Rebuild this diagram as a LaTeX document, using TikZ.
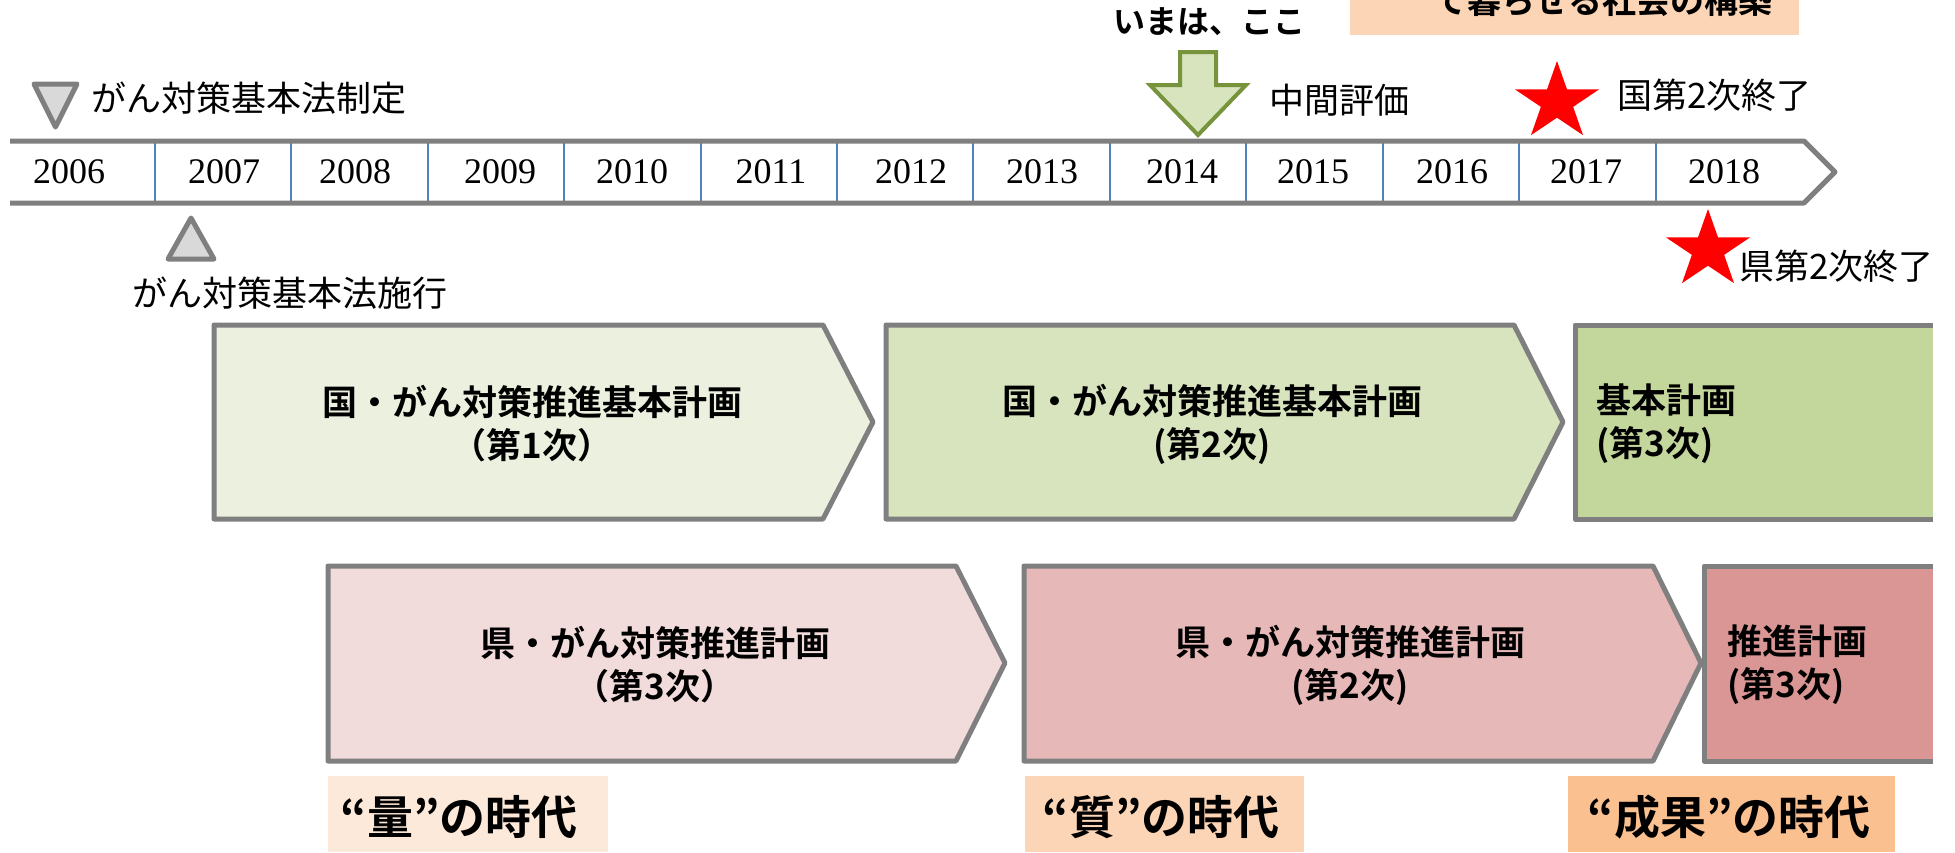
\documentclass[tikz,border=0pt]{standalone}
\usepackage{fontspec}
\setmainfont{Liberation Serif}
\newfontfamily\jp{Noto Sans CJK JP}
\newfontfamily\jpb{Noto Sans CJK JP Bold}
\definecolor{lgray}{HTML}{7F7F7F}
\definecolor{tblue}{HTML}{4F81BD}
\definecolor{agreen}{HTML}{77933C}
\definecolor{afill}{HTML}{D7E4BD}
\definecolor{gA}{HTML}{EBF1DE}
\definecolor{gB}{HTML}{D7E4BD}
\definecolor{gC}{HTML}{C3D69B}
\definecolor{rA}{HTML}{F2DCDB}
\definecolor{rB}{HTML}{E6B9B8}
\definecolor{rC}{HTML}{D99694}
\definecolor{pA}{HTML}{FDE9D9}
\definecolor{pB}{HTML}{FBD5B5}
\definecolor{pC}{HTML}{FAC090}
\definecolor{trig}{HTML}{D9D9D9}
\tikzset{
  outl/.style={draw=lgray, line width=5, line join=round},
  yr/.style={font=\fontsize{36}{40}\selectfont, inner sep=0},
  note/.style={font=\jp\fontsize{35}{40}\selectfont, inner sep=0},
  btitle/.style={font=\jpb\fontsize{35}{43}\selectfont, inner sep=0, align=center},
  btitlel/.style={font=\jpb\fontsize{35}{43}\selectfont, inner sep=0, align=left, anchor=west},
  era/.style={font=\jpb\fontsize{46}{50}\selectfont, inner sep=0},
  trimark/.style={draw=lgray, fill=trig, line width=5, line join=round},
  redstar/.style={fill=red},
}
\begin{document}
\begin{tikzpicture}[x=1pt, y=-1pt]
\useasboundingbox (0,0) rectangle (1955,852);
\clip (0,0) rectangle (1955,852);

% top partially visible box
\fill[pB] (1350,-20) rectangle (1799,35);
\node[font=\jpb\fontsize{34}{40}\selectfont, inner sep=0, anchor=base] (goal) at (1603,13) {て暮らせる社会の構築};

% "now" marker
\node[font=\jpb\fontsize{32}{40}\selectfont, inner sep=0] (now) at (1209,22) {いまは、ここ};
\draw[draw=agreen, fill=afill, line width=4, line join=miter]
  (1180,52) -- (1216,52) -- (1216,85) -- (1246,85) -- (1198,135) -- (1150,85) -- (1180,85) -- cycle;
\node[note, anchor=west] (mid) at (1269,100) {中間評価};

% stars
\fill[redstar, shift={(1557,102)}, xscale=1.08]
  (-90:41) -- (-54:15.7) -- (-18:41) -- (18:15.7) -- (54:41) -- (90:15.7) -- (126:41) -- (162:15.7) -- (198:41) -- (234:15.7) -- cycle;
\node[note, anchor=west] (kuni) at (1617,95) {国第2次終了};
\fill[redstar, shift={(1708,250)}, xscale=1.08]
  (-90:41) -- (-54:15.7) -- (-18:41) -- (18:15.7) -- (54:41) -- (90:15.7) -- (126:41) -- (162:15.7) -- (198:41) -- (234:15.7) -- cycle;
\node[note, anchor=west] (ken) at (1739,266) {県第2次終了};

% law markers
\draw[trimark] (34,84) -- (77,84) -- (55.5,127) -- cycle;
\node[note, anchor=west] (seitei) at (91,98) {がん対策基本法制定};
\draw[trimark] (168,259) -- (214,259) -- (191,218) -- cycle;
\node[note] (shiko) at (290,293) {がん対策基本法施行};

% timeline
\fill[white] (10,141) -- (1804,141) -- (1835,172) -- (1804,203) -- (10,203) -- cycle;
\foreach \x in {155,290.5,428,564,701,837,972.5,1110,1246,1383,1519,1656}
  \draw[tblue, line width=2] (\x,143) -- (\x,201);
\draw[outl] (10,141) -- (1804,141) -- (1835,172) -- (1804,203) -- (10,203);
\foreach \yv/\x in {2006/69,2007/224,2008/355,2009/500,2010/632,2011/771,2012/911,2013/1042,2014/1182,2015/1313,2016/1452,2017/1586,2018/1724}
  \node[yr] (y\yv) at (\x,172) {\yv};

% national plans
\draw[outl, fill=gA] (214,325) -- (823,325) -- (873,422) -- (823,519) -- (214,519) -- cycle;
\node[btitle] (n1) at (532,424) {国・がん対策推進基本計画\\（第1次）};
\draw[outl, fill=gB] (886,325) -- (1514,325) -- (1563,422) -- (1514,519) -- (886,519) -- cycle;
\node[btitle] (n2) at (1212,424) {国・がん対策推進基本計画\\(第2次)};
\fill[gC] (1575,325) rectangle (1933,519);
\draw[outl] (1933,325) -- (1575,325) -- (1575,519) -- (1933,519);
\node[btitlel] (n3) at (1596,424) {基本計画\\(第3次)};

% prefectural plans
\draw[outl, fill=rA] (328,566) -- (956,566) -- (1005,663) -- (956,761) -- (328,761) -- cycle;
\node[btitle] (p1) at (655,665) {県・がん対策推進計画\\（第3次）};
\draw[outl, fill=rB] (1024,566) -- (1653,566) -- (1701,663) -- (1653,761) -- (1024,761) -- cycle;
\node[btitle] (p2) at (1350,665) {県・がん対策推進計画\\(第2次)};
\fill[rC] (1704,566) rectangle (1933,761);
\draw[outl] (1933,566) -- (1704,566) -- (1704,761) -- (1933,761);
\node[btitlel] (p3) at (1727,665) {推進計画\\(第3次)};

% eras
\fill[pA] (328,776) rectangle (608,852);
\node[era] (e1) at (459,817) {“量”の時代};
\fill[pB] (1025,776) rectangle (1304,852);
\node[era] (e2) at (1161,817) {“質”の時代};
\fill[pC] (1568,776) rectangle (1895,852);
\node[era] (e3) at (1729,817) {“成果”の時代};
\end{tikzpicture}
\end{document}
